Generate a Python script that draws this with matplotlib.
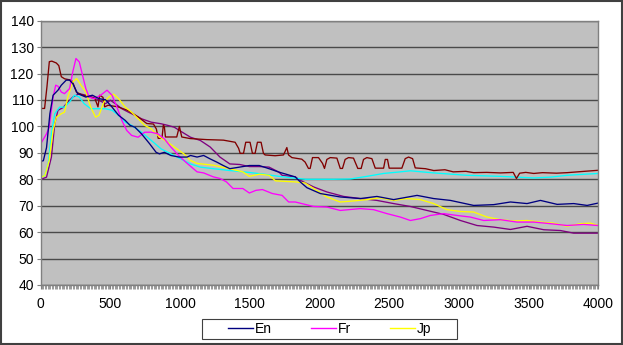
import numpy as np
import matplotlib
matplotlib.use("Agg")
import matplotlib.pyplot as plt
from matplotlib.patches import Rectangle
from matplotlib.lines import Line2D

plt.rcParams['font.family'] = ['Liberation Sans', 'DejaVu Sans']

# --- series (x, value) -------------------------------------------------
en_x = [0, 19, 42, 66, 89, 124, 148, 183, 207, 230, 265, 324, 371, 418, 465, 512, 559, 606, 641,
        676, 723, 782, 828, 852, 887, 934, 993, 1051, 1075, 1122, 1169, 1216, 1263, 1310, 1357,
        1427, 1497, 1568, 1638, 1709, 1755, 1826, 1862, 1910, 2006, 2149, 2293, 2412, 2532, 2700,
        2819, 2939, 3106, 3250, 3370, 3489, 3585, 3705, 3824, 3920, 4000]
en_y = [86.8, 87, 92, 104.8, 111.8, 113.7, 115.6, 117.5, 117.5, 116.2, 112.4, 111.1, 111.8, 110.5,
        110.1, 107.3, 104.2, 102.3, 100.4, 99.7, 97.2, 93.4, 90.2, 89.6, 90.2, 89, 88.4, 88.4, 89,
        88.4, 89, 87.7, 86.5, 85.2, 84, 84.6, 85.2, 85.2, 84, 82.7, 82, 80.9, 79, 76.8, 74.6, 73.3,
        72.7, 73.5, 72.3, 73.9, 72.7, 72, 70.1, 70.4, 71.4, 70.8, 72, 70.5, 70.8, 70.1, 71]

fr_x = [0, 42, 61, 89, 108, 124, 148, 171, 207, 230, 253, 277, 300, 324, 347, 383, 430, 476, 512,
        547, 582, 617, 652, 699, 746, 793, 840, 887, 934, 993, 1051, 1122, 1169, 1239, 1286, 1333,
        1380, 1450, 1497, 1544, 1591, 1662, 1732, 1779, 1826, 1896, 1958, 2053, 2149, 2293, 2388,
        2484, 2580, 2652, 2724, 2795, 2891, 2987, 3082, 3178, 3298, 3417, 3537, 3657, 3776, 3896, 4000]
fr_y = [93.4, 97.2, 99.7, 111.1, 115.6, 115.2, 113, 112.4, 114.3, 120.6, 125.7, 124.4, 119.4, 114.3,
        111.1, 110.5, 111.8, 113.7, 111.8, 107.3, 102.3, 98.5, 96.6, 95.9, 97.8, 97.8, 97.2, 95.3,
        92.2, 88.8, 86, 82.8, 82.4, 80.9, 80.3, 79, 76.5, 76.5, 74.8, 75.8, 76.1, 74.6, 73.9, 71.4,
        71.4, 70.5, 69.7, 69.5, 68.2, 68.9, 68.5, 67, 65.7, 64.4, 65.1, 66.3, 67, 66.3, 65.7, 64.4,
        64.7, 63.8, 63.8, 63.2, 62.5, 62.9, 62.5]

jp_x = [0, 30, 61, 89, 113, 148, 171, 195, 230, 258, 289, 324, 359, 394, 418, 453, 488, 523, 559,
        606, 652, 699, 746, 793, 852, 911, 958, 1028, 1075, 1122, 1239, 1357, 1450, 1497, 1568,
        1638, 1685, 1756, 1826, 1896, 1958, 2053, 2149, 2245, 2341, 2436, 2532, 2628, 2724, 2819,
        2915, 3011, 3106, 3202, 3298, 3394, 3489, 3585, 3681, 3776, 3872, 3944, 4000]
jp_y = [80.8, 81.4, 87.1, 98.5, 103.5, 104.8, 105.4, 111.1, 116.8, 118.1, 115.6, 113, 107.3, 103.5,
        104.2, 109.2, 111.1, 112.2, 110.5, 107.3, 105.4, 102.9, 100.4, 99.1, 96, 94, 92.2, 89.6,
        87.1, 86, 85.3, 84, 82.8, 81.1, 81.9, 81.5, 79.4, 79.2, 79, 78.6, 76.5, 73.3, 71.4, 71.8,
        72.3, 73, 72, 72.7, 72.3, 70.8, 68.5, 67.8, 67.6, 65.7, 64.7, 64.2, 64.4, 63.8, 63.4, 62.2,
        63.2, 63.4, 62.5]

cy_x = [0, 30, 54, 77, 101, 136, 171, 207, 242, 277, 312, 359, 418, 465, 512, 559, 606, 652, 723,
        793, 864, 934, 1005, 1075, 1145, 1239, 1357, 1474, 1591, 1709, 1826, 1900, 2100, 2221,
        2340, 2460, 2580, 2652, 2819, 3058, 3298, 3537, 3657, 3776, 4000]
cy_y = [80.8, 81.4, 85.8, 97.2, 104.8, 107.3, 107.3, 109.2, 111.8, 111.1, 108.6, 106.7, 106.7,
        106.7, 106.1, 104.2, 101.6, 100.4, 97.8, 94.7, 91.5, 89.6, 87.7, 85.8, 84.6, 84, 83.3, 82.7,
        82, 81.1, 80.4, 80, 80, 80.1, 81.1, 82.2, 82.8, 83.2, 82.4, 81.5, 81.1, 80.5, 80.8, 81.5, 82.2]

dr_x = [0, 28, 45, 62, 80, 112, 130, 148, 172, 220, 235, 256, 292, 340, 388, 400, 411, 423, 447,
        459, 483, 555, 627, 699, 761, 809, 830, 843, 870, 880, 887, 895, 976, 995, 1012, 1072, 1192,
        1311, 1395, 1420, 1431, 1455, 1471, 1502, 1519, 1538, 1555, 1581, 1598, 1610, 1682, 1742,
        1766, 1778, 1802, 1873, 1897, 1921, 1933, 1950, 1993, 2022, 2036, 2053, 2077, 2125, 2149,
        2165, 2184, 2208, 2244, 2275, 2299, 2316, 2340, 2376, 2400, 2460, 2472, 2488, 2500, 2591,
        2615, 2639, 2668, 2687, 2760, 2820, 2900, 2960, 3050, 3106, 3200, 3298, 3390, 3413, 3436,
        3480, 3537, 3600, 3700, 3777, 3900, 4000]
dr_y = [106.8, 106.8, 115, 124.5, 124.7, 124, 123, 118.8, 118, 117.5, 116, 113, 112, 111.2, 110.6,
        109, 107.4, 111.8, 111, 107.4, 108, 107.4, 106, 103.6, 101.1, 100.9, 99, 95.5, 95.5, 100.5,
        100, 96, 96, 100, 96, 95.4, 95, 94.8, 94, 91.7, 89.8, 89.8, 94, 94, 89.8, 89.8, 94, 94, 89.8,
        89.2, 88.9, 89.2, 92, 89.2, 88.2, 87.6, 86.5, 84.1, 84.1, 88.2, 88.2, 86, 84.1, 87.5, 88.2,
        88, 84.1, 84.1, 87.5, 88.2, 88, 84.1, 84.1, 87.5, 88.2, 87.8, 84.2, 84.2, 87.5, 87.5, 84.2,
        84.2, 87.8, 88.4, 87.8, 84.3, 84, 83.3, 83.6, 82.8, 83, 82.5, 82.6, 82.4, 82.6, 80.3, 82.3,
        82.6, 82.2, 82.5, 82.3, 82.5, 83, 83.4]

pu_x = [0, 42, 77, 101, 124, 160, 195, 230, 277, 324, 371, 418, 465, 500, 535, 582, 629, 676, 723,
        793, 864, 911, 958, 1016, 1075, 1145, 1216, 1286, 1357, 1427, 1497, 1568, 1638, 1709, 1732,
        1826, 1862, 1958, 2053, 2173, 2293, 2412, 2532, 2652, 2771, 2891, 3011, 3130, 3250, 3370,
        3489, 3609, 3729, 3824, 4000]
pu_y = [79.9, 80.8, 88.4, 101, 106.1, 107.1, 109.2, 111.1, 112.4, 111.8, 111.1, 109.9, 108.6, 109.9,
        108.6, 106.7, 105.4, 104.2, 102.9, 101.6, 101, 100.4, 99.7, 97.8, 95.9, 94.7, 92.2, 88.4,
        85.8, 85.6, 84.8, 84.8, 84.6, 82.7, 81.5, 80.9, 79.6, 77.1, 75.2, 73.5, 72.7, 72, 70.8, 69.7,
        68.2, 66.7, 64.4, 62.5, 61.9, 61, 62.2, 60.9, 60.6, 59.6, 59.6]

x_ticks = [0, 500, 1000, 1500, 2000, 2500, 3000, 3500, 4000]
y_ticks = [40, 50, 60, 70, 80, 90, 100, 110, 120, 130, 140]

# --- figure --------------------------------------------------------------
fig = plt.figure(figsize=(6.23, 3.45), dpi=100)
ax = fig.add_axes([0.0653, 0.174, 0.895, 0.766])
ax.set_facecolor('#C0C0C0')

lw = 0.95
# unlabelled series first so the three legend series sit on top
ax.plot(pu_x, pu_y, color='#800080', lw=lw)
ax.plot(cy_x, cy_y, color='#00FFFF', lw=lw)
ax.plot(dr_x, dr_y, color='#800000', lw=lw)
ax.plot(jp_x, jp_y, color='#FFFF00', lw=lw)
ax.plot(fr_x, fr_y, color='#FF00FF', lw=lw)
ax.plot(en_x, en_y, color='#000080', lw=lw)

ax.set_xlim(0, 4000)
ax.set_ylim(40, 140)
ax.set_xticks(x_ticks)
ax.set_yticks(y_ticks)
ax.set_xticks(np.arange(0, 4001, 10), minor=True)
ax.yaxis.grid(True, color='#4a4a4a', lw=1.0)
ax.set_axisbelow(True)

ax.tick_params(axis='both', labelsize=10, colors='black', direction='out')
ax.tick_params(axis='y', length=3, color='#808080', pad=2)
ax.tick_params(axis='x', which='major', length=3, color='#808080', pad=6)
ax.tick_params(axis='x', which='minor', length=3, width=0.5, color='#707070')
for s in ax.spines.values():
    s.set_color('#808080')
    s.set_linewidth(1.0)

# legend: only the three named series, inside a plain box
handles = [Line2D([], [], color=c, lw=1.0) for c in ('#000080', '#FF00FF', '#FFFF00')]
fig.legend(handles, ['En', 'Fr', 'Jp'], loc='center', bbox_to_anchor=(0.529, 0.046),
           ncol=3, frameon=False, fontsize=10, handlelength=1.8, handletextpad=0.15,
           columnspacing=2.8)
fig.patches.append(Rectangle((202 / 623, 1 - 339 / 345), 255 / 623, 20 / 345,
                             transform=fig.transFigure, fill=False,
                             edgecolor='#404040', lw=0.8))

# outer chart border
fig.patches.append(Rectangle((0.001, 0.002), 0.997, 0.995, transform=fig.transFigure,
                             fill=False, edgecolor='#404040', lw=1.5))

fig.savefig('out.png', dpi=100)
